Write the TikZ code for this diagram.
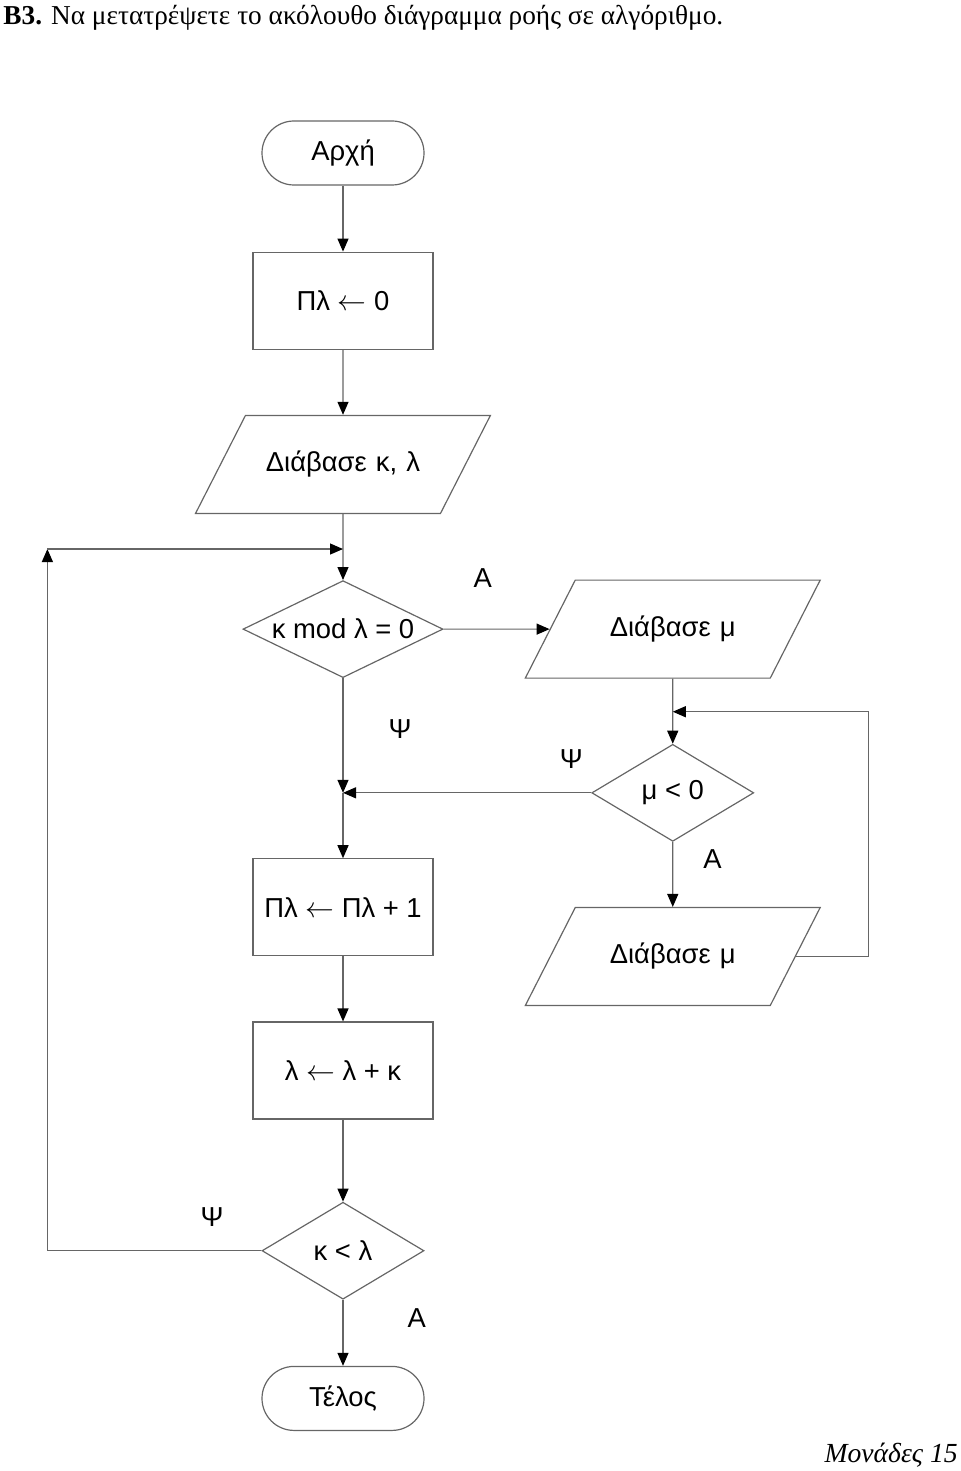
\documentclass[tikz,border=0pt]{standalone}
\usepackage{fontspec}
\setmainfont{Liberation Sans}
\newfontfamily\serifgr{Liberation Serif}
\usetikzlibrary{positioning, shapes.geometric, arrows.meta}

\begin{document}
\begin{tikzpicture}[x=0.5pt, y=-0.5pt, font=\fontsize{13.7}{16.5}\selectfont,
    term/.style={draw=black!60, line width=0.6pt, rounded corners=16pt, minimum width=81pt, minimum height=32pt},
    proc/.style={draw=black!60, line width=0.6pt, minimum width=90pt, minimum height=48.5pt},
    io/.style={draw=black!60, line width=0.6pt, trapezium, trapezium left angle=63, trapezium right angle=117,
               text width=90pt, align=center, text height=10pt, text depth=3pt,
               inner xsep=3.75pt, inner ysep=18pt},
    dec/.style={draw=black!60, line width=0.6pt, diamond, inner sep=0pt, minimum width=81pt, minimum height=48.5pt},
    link/.style={draw=black!60, line width=0.6pt, -{Triangle[length=6.5pt,width=5.5pt,color=black]}},
    lbl/.style={inner sep=0pt}]
    \useasboundingbox (0,0) rectangle (960,1471);

    \node[anchor=base west, inner sep=0pt, font=\serifgr\fontsize{13.65}{16}\selectfont] (title) at (3,25)
        {\textbf{B3.} Να μετατρέψετε το ακόλουθο διάγραμμα ροής σε αλγόριθμο.};

    \node[term]                                     (start)  at (343,153) {Αρχή};
    \node[proc, below=33pt of start]                (init)   {Πλ $\leftarrow$ 0};
    \node[io, below=32.5pt of init]                 (readkl) {Διάβασε κ, λ};
    \node[dec, aspect=2, minimum width=100pt, below=33pt of readkl] (test1) {κ mod λ = 0};
    \node[io, right=53pt of test1]                  (readm1) {Διάβασε μ};
    \node[dec, below=32.5pt of readm1]              (test2)  {μ < 0};
    \node[io, below=32.5pt of test2]                (readm2) {Διάβασε μ};
    \node[proc, below=90pt of test1]                (incr)   {Πλ $\leftarrow$ Πλ + 1};
    \node[proc, below=32.5pt of incr]               (addk)   {λ $\leftarrow$ λ + κ};
    \node[dec, below=41pt of addk]                  (test3)  {κ < λ};
    \node[term, below=33pt of test3]                (stop)   {Τέλος};

    \coordinate[below=17.5pt of readkl] (j0);
    \coordinate (j1) at (test1 |- test2);
    \coordinate[below=16.5pt of readm1] (j2);
    \coordinate[left=107pt of test3]    (c1);
    \coordinate (c2) at (c1 |- j0);
    \coordinate[right=36.25pt of readm2] (c3);
    \coordinate (c4) at (c3 |- j2);

    \draw[link] (start)  -- (init);
    \draw[link] (init)   -- (readkl);
    \draw[link] (readkl) -- (test1);
    \draw[link] (test1)  -- node[lbl, pos=0.37, above=20.5pt] (a1) {Α} (readm1);
    \draw[link] (test1)  -- node[lbl, pos=0.44, right=22.5pt] (p1) {Ψ} (j1);
    \draw[link] (j1)     -- (incr);
    \draw[link] (readm1) -- (test2);
    \draw[link] (test2)  -- node[lbl, pos=0.08, above=12pt] (p2) {Ψ} (j1);
    \draw[link] (test2)  -- node[lbl, pos=0.27, right=15pt] (a2) {Α} (readm2);
    \draw[link] (readm2.east) -- (c3) -- (c4) -- (j2);
    \draw[link] (incr)   -- (addk);
    \draw[link] (addk)   -- (test3);
    \draw[link] (test3)  -- node[lbl, pos=0.23, above=12pt] (p3) {Ψ} (c1) -- (c2);
    \draw[link] (c2)     -- (j0);
    \draw[link] (test3)  -- node[lbl, pos=0.28, right=32pt] (a3) {Α} (stop);

    \node[anchor=base east, inner sep=0pt, font=\serifgr\itshape\fontsize{13.8}{16}\selectfont] (marks) at (958,1462) {Μονάδες 15};
\end{tikzpicture}
\end{document}
